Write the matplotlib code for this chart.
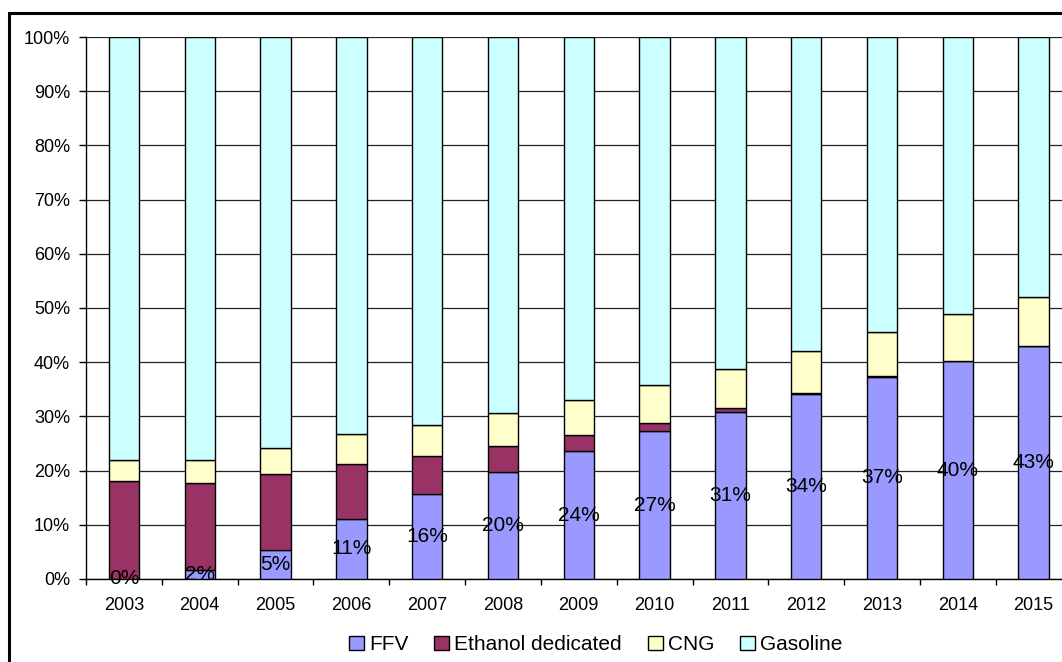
import numpy as np
import matplotlib.pyplot as plt
from matplotlib.patches import Rectangle
from matplotlib.ticker import FixedLocator, PercentFormatter

plt.rcParams['font.family'] = ['Liberation Sans', 'DejaVu Sans']

years = ['2003', '2004', '2005', '2006', '2007', '2008', '2009',
         '2010', '2011', '2012', '2013', '2014', '2015']
ffv = [0.0, 1.6, 5.4, 11.1, 15.6, 19.7, 23.6, 27.3, 30.8, 34.1, 37.3, 40.2, 42.9]
ethanol = [18.1, 16.1, 14.0, 10.1, 7.1, 4.9, 2.9, 1.5, 0.7, 0.3, 0.1, 0.05, 0.0]
cng = [3.8, 4.2, 4.8, 5.5, 5.8, 6.1, 6.6, 6.9, 7.3, 7.7, 8.1, 8.6, 9.1]
gasoline = [100 - a - b - c for a, b, c in zip(ffv, ethanol, cng)]

series = [('FFV', ffv, '#9999FF'),
          ('Ethanol dedicated', ethanol, '#993366'),
          ('CNG', cng, '#FFFFCC'),
          ('Gasoline', gasoline, '#CCFFFF')]

fig = plt.figure(figsize=(10.62, 6.62), dpi=100)
ax = fig.add_axes([0.081, 0.1254, 0.928, 0.8187])

x = np.arange(len(years))
bottom = np.zeros(len(years))
for name, vals, col in series:
    ax.bar(x, vals, 0.4, bottom=bottom, color=col, edgecolor='black',
           linewidth=1, label=name, zorder=3)
    bottom += np.array(vals)

# FFV share labels in the middle of the FFV segment
for xi, v in zip(x, ffv):
    ax.text(xi, v / 2, f'{v:.0f}%', ha='center', va='center', fontsize=15, zorder=4)

ax.set_xlim(-0.5, len(years) - 0.5)
ax.set_ylim(0, 100)
ax.yaxis.set_major_locator(FixedLocator(np.arange(0, 101, 10)))
ax.yaxis.set_major_formatter(PercentFormatter(decimals=0))
ax.yaxis.grid(True, color='#222222', linewidth=0.9, zorder=0)
ax.set_axisbelow(True)

ax.set_xticks(x)
ax.set_xticklabels(years)
ax.xaxis.set_minor_locator(FixedLocator(np.arange(-0.5, len(years), 1)))
ax.tick_params(axis='x', which='major', length=0, pad=13, labelsize=13)
ax.tick_params(axis='x', which='minor', length=4, width=1, direction='out')
ax.tick_params(axis='y', length=5, width=1, pad=6.5, labelsize=13)

for s in ['top', 'right']:
    ax.spines[s].set_visible(False)
ax.spines['left'].set_linewidth(1)
ax.spines['bottom'].set_linewidth(1)

fig.legend(loc='center', bbox_to_anchor=(0.561, 0.026), ncol=4, frameon=False,
           fontsize=15, handlelength=0.7, handleheight=0.7, handletextpad=0.25,
           columnspacing=1.25)

fig.patches.append(Rectangle((0.0085, -0.1), 1.2, 1.08, transform=fig.transFigure,
                             fill=False, edgecolor='black', linewidth=2.2))

fig.savefig('out.png', dpi=100)
